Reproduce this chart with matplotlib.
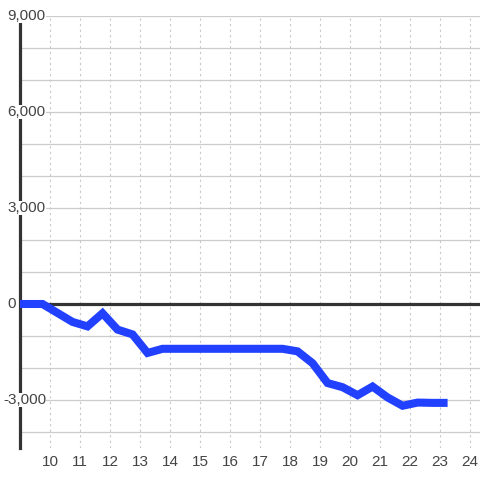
import matplotlib
matplotlib.use("Agg")
import matplotlib.pyplot as plt

plt.rcParams['font.family'] = ['Liberation Sans', 'DejaVu Sans']

# data
hours = [9.0, 9.75, 10.25, 10.75, 11.25, 11.75, 12.25, 12.75, 13.25, 13.75,
         14.25, 14.75, 15.25, 15.75, 16.25, 16.75, 17.25, 17.75, 18.25, 18.75,
         19.25, 19.75, 20.25, 20.75, 21.25, 21.75, 22.25, 22.75, 23.25]
values = [0, 0, -280, -560, -700, -290, -800, -950, -1530, -1400,
          -1400, -1400, -1400, -1400, -1400, -1400, -1400, -1400, -1480, -1850,
          -2470, -2600, -2850, -2580, -2920, -3180, -3080, -3090, -3090]
x_ticks = list(range(10, 25))
y_labels = [-3000, 0, 3000, 6000, 9000]
y_grid = list(range(-4000, 9001, 1000))

fig = plt.figure(figsize=(4.8, 4.8), dpi=100)
ax = fig.add_axes([20/480, 32/480, 460/480, 432/480])
ax.set_xlim(9, 24.33)
ax.set_ylim(-4500, 9000)

# grid
for g in y_grid:
    ax.axhline(g, color='#cccccc', lw=0.9, zorder=1)
for t in x_ticks:
    ax.axvline(t, color='#c8c8c8', lw=0.8, ls=(0, (2, 3)), zorder=1)

# zero line
ax.axhline(0, color='#333333', lw=2.3, zorder=2)

ax.plot(hours, values, color='#2140ff', lw=5.8, solid_capstyle='butt',
        solid_joinstyle='miter', zorder=3)

for s in ['top', 'right', 'bottom']:
    ax.spines[s].set_visible(False)
ax.spines['left'].set_color('#333333')
ax.spines['left'].set_linewidth(2.3)
ax.spines['left'].set_bounds(-4500, 8750)

ax.set_yticks([])
ax.set_xticks(x_ticks)
ax.set_xticklabels([str(t) for t in x_ticks])
ax.tick_params(axis='x', length=0, pad=5, labelsize=11, labelcolor='#444444')

for v in y_labels:
    xpos = 8.43 if v < 0 else 8.57
    ax.text(xpos, v, '{:,}'.format(v), ha='left', va='center', fontsize=11,
            color='#444444', zorder=4, clip_on=False,
            bbox=dict(facecolor='white', edgecolor='none', pad=0.3))

fig.savefig('out.png', dpi=100)
